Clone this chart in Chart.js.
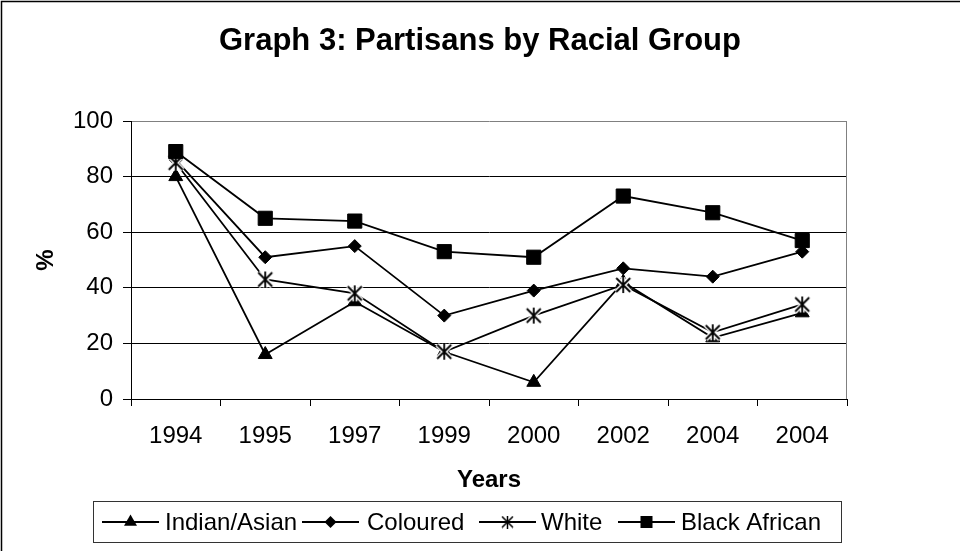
<!DOCTYPE html>
<html>
<head>
<meta charset="utf-8">
<title>Graph 3: Partisans by Racial Group</title>
<script src="https://cdn.jsdelivr.net/npm/chart.js@4.4.1/dist/chart.umd.min.js"></script>
<style>
  html, body { margin: 0; padding: 0; background: #fff; }
  #wrap { width: 960px; height: 551px; position: relative; }
  canvas { display: block; }
</style>
</head>
<body>
<div id="wrap"><canvas id="chart" width="960" height="551"></canvas></div>
<script>
// Survey years (the last wave repeats 2004)
const years = ['1994', '1995', '1997', '1999', '2000', '2002', '2004', '2004'];

// Share of partisans (%) per racial group
const indianAsian  = [80, 16, 35, 17, 6, 42, 22, 31];
const coloured     = [86, 51, 55, 30, 39, 47, 44, 53];
const white        = [85, 43, 38, 17, 30, 41, 24, 34];
const blackAfrican = [89, 65, 64, 53, 51, 73, 67, 57];

const seriesNames = ['Indian/Asian', 'Coloured', 'White', 'Black African'];
const yTicks = [0, 20, 40, 60, 80, 100];

const FONT = "Arial, 'Liberation Sans', sans-serif";

// Asterisk marker: an X crossed by a vertical stroke, with a thin white halo
function makeStar(size, lw, halo) {
  const pad = halo ? 2 : 0;
  const c = document.createElement('canvas');
  c.width = size + pad * 2; c.height = size + pad * 2;
  const g = c.getContext('2d');
  const m = 1 + pad, s = size + pad;
  const path = () => {
    g.beginPath();
    g.moveTo(m, m); g.lineTo(s - 1, s - 1);
    g.moveTo(s - 1, m); g.lineTo(m, s - 1);
    g.moveTo(c.width / 2, pad); g.lineTo(c.width / 2, s);
  };
  if (halo) {
    g.strokeStyle = '#fff';
    g.lineWidth = lw + 3;
    path(); g.stroke();
  }
  g.strokeStyle = '#000';
  g.lineWidth = lw;
  path(); g.stroke();
  return c;
}
const starMarker = makeStar(16, 1.8, true);
const starLegend = makeStar(13, 1.5, false);

function drawMarker(ctx, kind, x, y) {
  ctx.save();
  ctx.fillStyle = '#000';
  ctx.beginPath();
  if (kind === 'triangle') {
    const r = 7.5;
    ctx.moveTo(x, y - r);
    ctx.lineTo(x + r * 0.866, y + r * 0.5);
    ctx.lineTo(x - r * 0.866, y + r * 0.5);
    ctx.closePath();
    ctx.fill();
  } else if (kind === 'diamond') {
    const r = 6;
    ctx.moveTo(x, y - r); ctx.lineTo(x + r, y); ctx.lineTo(x, y + r); ctx.lineTo(x - r, y);
    ctx.closePath();
    ctx.fill();
  } else if (kind === 'square') {
    ctx.fillRect(x - 6, y - 6, 12, 12);
  } else if (kind === 'star') {
    ctx.drawImage(starLegend, x - starLegend.width / 2, y - starLegend.height / 2);
  }
  ctx.restore();
}

// Frame, plot border, title and boxed legend
const decorations = {
  id: 'decorations',
  beforeDatasetsDraw(chart) {
    const { ctx, chartArea: a } = chart;
    ctx.save();
    ctx.strokeStyle = '#808080';
    ctx.lineWidth = 1;
    ctx.beginPath();
    ctx.moveTo(Math.round(a.right) - 0.5, Math.round(a.top) + 0.5);
    ctx.lineTo(Math.round(a.right) - 0.5, Math.round(a.bottom));
    ctx.stroke();
    ctx.restore();
  },
  afterDraw(chart) {
    const { ctx } = chart;
    ctx.save();
    // outer frame
    ctx.strokeStyle = '#000';
    ctx.lineWidth = 1.5;
    ctx.strokeRect(1.5, 1.5, 980, 580);

    // title
    ctx.fillStyle = '#000';
    ctx.font = 'bold 31px ' + FONT;
    ctx.textAlign = 'center';
    ctx.textBaseline = 'middle';
    ctx.fillText('Graph 3: Partisans by Racial Group', 480, 41);

    // legend box
    ctx.strokeStyle = '#333';
    ctx.lineWidth = 1;
    ctx.strokeRect(93.5, 501.5, 748, 41);

    const kinds = ['triangle', 'diamond', 'star', 'square'];
    const lineStart = [102, 302, 479, 618];
    const textStart = [165, 367, 541, 681];
    const lineLen = 57;
    const ly = 522;
    ctx.strokeStyle = '#000';
    ctx.font = '24px ' + FONT;
    ctx.textAlign = 'left';
    ctx.textBaseline = 'middle';
    for (let i = 0; i < seriesNames.length; i++) {
      ctx.lineWidth = 2;
      ctx.beginPath();
      ctx.moveTo(lineStart[i], ly);
      ctx.lineTo(lineStart[i] + lineLen, ly);
      ctx.stroke();
      drawMarker(ctx, kinds[i], lineStart[i] + lineLen / 2, ly);
      ctx.fillText(seriesNames[i], textStart[i], ly + 1);
    }
    ctx.restore();
  }
};

const common = {
  borderColor: '#000',
  backgroundColor: '#000',
  pointBackgroundColor: '#000',
  pointBorderColor: '#000',
  borderWidth: 1.8,
  pointBorderWidth: 1,
  tension: 0,
  fill: false
};

new Chart(document.getElementById('chart'), {
  type: 'line',
  data: {
    labels: years,
    datasets: [
      Object.assign({}, common, { label: seriesNames[0], data: indianAsian, pointStyle: 'triangle', pointRadius: 8, order: 3 }),
      Object.assign({}, common, { label: seriesNames[1], data: coloured, pointStyle: 'rectRot', pointRadius: 6.5, order: 2 }),
      Object.assign({}, common, { label: seriesNames[2], data: white, pointStyle: starMarker, pointRadius: 8, order: 1 }),
      Object.assign({}, common, { label: seriesNames[3], data: blackAfrican, pointStyle: 'rect', pointRadius: 10, order: 0 })
    ]
  },
  options: {
    responsive: false,
    animation: false,
    devicePixelRatio: 1,
    layout: { padding: { top: 121, right: 113, bottom: 0, left: 0 } },
    plugins: {
      legend: { display: false },
      title: { display: false },
      tooltip: { enabled: false }
    },
    scales: {
      x: {
        type: 'category',
        offset: true,
        afterFit(scale) { scale.height = 152; },
        grid: {
          offset: true,
          drawOnChartArea: false,
          drawTicks: true,
          tickLength: 7,
          tickColor: '#000',
          lineWidth: 1
        },
        border: { display: true, color: '#000', width: 1 },
        ticks: {
          color: '#000',
          font: { family: FONT, size: 24 },
          padding: 16,
          maxRotation: 0,
          autoSkip: false
        },
        title: {
          display: true,
          text: 'Years',
          color: '#000',
          font: { family: FONT, size: 24, weight: 'bold' },
          padding: { top: 0, bottom: 56 }
        }
      },
      y: {
        min: 0,
        max: 100,
        afterFit(scale) { scale.width = 131; },
        afterBuildTicks(scale) { scale.ticks = yTicks.map(v => ({ value: v })); },
        grid: {
          color: (c) => (c.tick && c.tick.value === 100 ? '#808080' : '#000'),
          lineWidth: 1,
          drawTicks: true,
          tickLength: 8,
          tickColor: '#000'
        },
        border: { display: true, color: '#000', width: 1 },
        ticks: {
          color: '#000',
          font: { family: FONT, size: 24 },
          padding: 10
        },
        title: {
          display: true,
          text: '%',
          color: '#000',
          font: { family: FONT, size: 24, weight: 'bold' },
          padding: { top: 32, bottom: 0 }
        }
      }
    }
  },
  plugins: [decorations]
});
</script>
</body>
</html>
